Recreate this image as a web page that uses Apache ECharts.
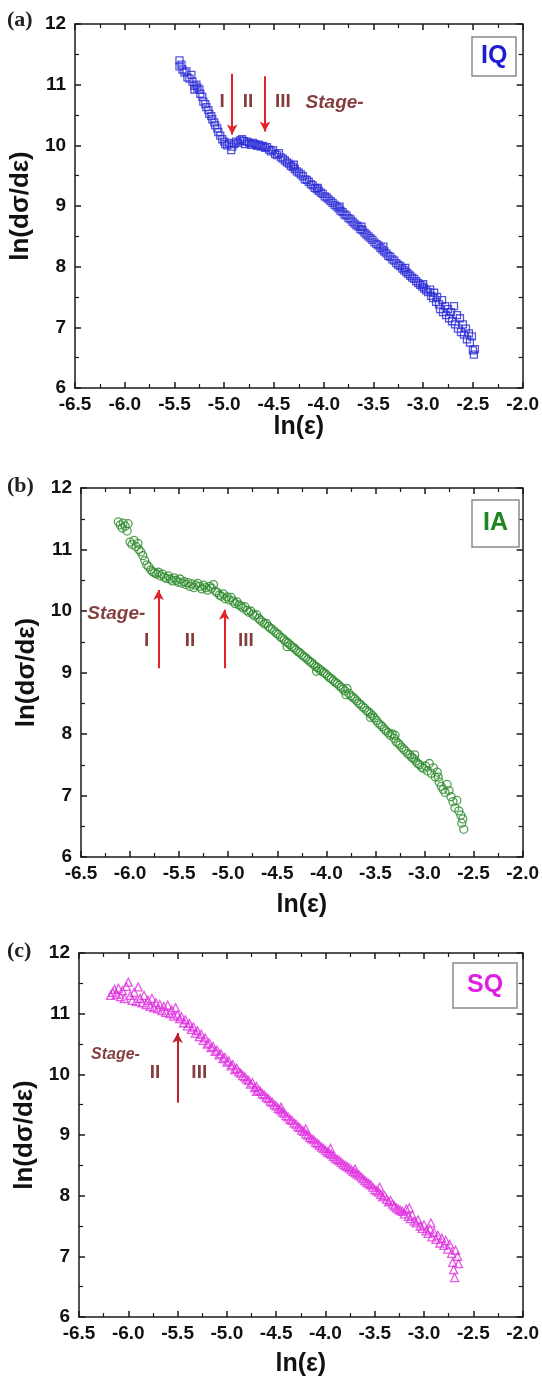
<!DOCTYPE html>
<html>
<head>
<meta charset="utf-8">
<script src="https://cdn.jsdelivr.net/npm/echarts@6/dist/echarts.min.js"></script>
<style>
html, body { margin: 0; padding: 0; background: #fff; }
#main { width: 542px; height: 1384px; }
</style>
</head>
<body>
<div id="main"></div>
<script>
// ---- data: [ln(strain), ln(dσ/dε)] ----
var iqPoints = [
  [-5.45,11.40],[-5.45,11.30],[-5.43,11.33],[-5.42,11.25],[-5.40,11.20],[-5.38,11.22],[-5.37,11.12],[-5.35,11.10],
  [-5.33,11.16],[-5.32,11.05],[-5.30,10.98],[-5.30,10.92],[-5.28,11.00],[-5.27,10.95],[-5.25,10.92],[-5.24,10.85],
  [-5.22,10.80],[-5.21,10.72],[-5.19,10.68],[-5.18,10.63],[-5.16,10.58],[-5.15,10.52],[-5.13,10.48],[-5.12,10.43],
  [-5.10,10.38],[-5.09,10.33],[-5.07,10.28],[-5.06,10.22],[-5.04,10.16],[-5.02,10.10],[-5.00,10.06],[-4.99,10.02],
  [-4.97,10.00],[-4.95,10.04],[-4.93,9.92],[-4.92,9.98],[-4.90,10.02],[-4.88,10.06],[-4.86,10.04],[-4.84,10.08],
  [-4.82,10.10],[-4.80,10.07],[-4.79,10.02],[-4.77,10.06],[-4.75,10.04],[-4.73,10.01],[-4.71,10.04],[-4.69,10.02],
  [-4.67,9.99],[-4.65,10.01],[-4.63,9.98],[-4.61,9.99],[-4.59,9.96],[-4.57,9.97],[-4.55,9.93],[-4.53,9.90],
  [-4.51,9.92],[-4.49,9.86],[-4.47,9.84],[-4.45,9.87],[-4.43,9.80],[-4.41,9.78],[-4.39,9.75],[-4.37,9.72],
  [-4.35,9.70],[-4.33,9.66],[-4.31,9.64],[-4.29,9.61],[-4.27,9.57],[-4.25,9.55],[-4.23,9.52],[-4.21,9.49],
  [-4.19,9.44],[-4.17,9.43],[-4.15,9.40],[-4.13,9.36],[-4.11,9.34],[-4.09,9.30],[-4.07,9.28],[-4.05,9.25],
  [-4.03,9.22],[-4.01,9.20],[-3.99,9.16],[-3.97,9.14],[-3.95,9.11],[-3.93,9.08],[-3.91,9.05],[-3.89,9.02],
  [-3.87,8.99],[-3.85,8.96],[-3.83,8.92],[-3.81,8.90],[-3.79,8.86],[-3.77,8.84],[-3.75,8.80],[-3.73,8.78],
  [-3.71,8.74],[-3.69,8.71],[-3.67,8.68],[-3.65,8.66],[-3.63,8.62],[-3.61,8.60],[-3.59,8.56],[-3.57,8.53],
  [-3.55,8.50],[-3.53,8.47],[-3.51,8.44],[-3.49,8.40],[-3.47,8.37],[-3.45,8.35],[-3.43,8.31],[-3.41,8.28],
  [-3.39,8.25],[-3.37,8.22],[-3.35,8.18],[-3.33,8.16],[-3.31,8.12],[-3.29,8.10],[-3.27,8.06],[-3.25,8.03],
  [-3.23,8.01],[-3.21,7.97],[-3.19,7.94],[-3.17,7.91],[-3.15,7.88],[-3.13,7.85],[-3.11,7.82],[-3.09,7.80],
  [-3.07,7.76],[-3.05,7.73],[-3.03,7.70],[-3.01,7.67],[-2.99,7.64],[-2.97,7.61],[-2.95,7.58],[-2.93,7.62],
  [-2.92,7.52],[-2.90,7.48],[-2.89,7.57],[-2.87,7.42],[-2.86,7.50],[-2.84,7.38],[-2.83,7.30],[-2.81,7.45],
  [-2.80,7.25],[-2.78,7.35],[-2.77,7.20],[-2.75,7.30],[-2.74,7.15],[-2.72,7.25],[-2.71,7.10],[-2.69,7.35],
  [-2.68,7.05],[-2.66,7.20],[-2.65,6.98],[-2.63,7.15],[-2.62,6.92],[-2.60,7.05],[-2.59,6.88],[-2.57,6.98],
  [-2.56,6.80],[-2.54,6.90],[-2.53,6.75],[-2.51,6.85],[-2.50,6.62],[-2.48,6.64],[-2.49,6.55],
  [-4.30,9.68],[-4.06,9.30],[-3.84,8.99],[-3.62,8.66],[-3.40,8.33],[-3.18,7.98],[-3.00,7.71]
];

var iaPoints = [
  [-6.12,11.45],[-6.10,11.40],[-6.08,11.35],[-6.07,11.43],[-6.05,11.38],[-6.03,11.30],[-6.02,11.42],
  [-6.00,11.12],[-5.98,11.08],[-5.96,11.15],[-5.94,11.05],[-5.92,11.10],[-5.91,11.00],[-5.89,10.96],
  [-5.87,10.90],[-5.85,10.82],[-5.83,10.75],[-5.81,10.72],[-5.79,10.67],[-5.77,10.64],[-5.75,10.62],[-5.73,10.60],
  [-5.71,10.63],[-5.69,10.57],[-5.67,10.60],[-5.65,10.55],[-5.63,10.53],[-5.61,10.57],[-5.59,10.52],[-5.57,10.49],
  [-5.55,10.54],[-5.53,10.50],[-5.51,10.47],[-5.49,10.52],[-5.47,10.45],[-5.45,10.48],[-5.43,10.43],[-5.41,10.46],
  [-5.39,10.40],[-5.37,10.44],[-5.35,10.38],[-5.33,10.42],[-5.31,10.45],[-5.29,10.40],[-5.27,10.36],[-5.25,10.42],
  [-5.23,10.38],[-5.21,10.34],[-5.19,10.40],[-5.17,10.37],[-5.15,10.43],[-5.13,10.32],[-5.11,10.30],[-5.09,10.26],
  [-5.07,10.24],[-5.05,10.28],[-5.03,10.20],[-5.01,10.23],[-4.99,10.18],[-4.97,10.22],[-4.95,10.16],[-4.93,10.12],
  [-4.91,10.15],[-4.89,10.10],[-4.87,10.08],[-4.85,10.05],[-4.83,10.07],[-4.81,10.01],[-4.79,9.98],[-4.77,10.00],
  [-4.75,9.95],[-4.73,9.92],[-4.71,9.94],[-4.69,9.88],[-4.67,9.85],[-4.65,9.82],[-4.63,9.79],[-4.61,9.80],
  [-4.59,9.75],[-4.57,9.72],[-4.55,9.70],[-4.53,9.67],[-4.51,9.64],[-4.49,9.62],[-4.47,9.58],[-4.45,9.56],
  [-4.43,9.53],[-4.41,9.50],[-4.39,9.48],[-4.37,9.45],[-4.35,9.42],[-4.33,9.40],[-4.31,9.37],[-4.29,9.34],
  [-4.27,9.32],[-4.25,9.29],[-4.23,9.26],[-4.21,9.24],[-4.19,9.21],[-4.17,9.18],[-4.15,9.16],[-4.13,9.13],
  [-4.11,9.10],[-4.09,9.08],[-4.07,9.05],[-4.05,9.03],[-4.03,9.00],[-4.01,8.98],[-3.99,8.95],[-3.97,8.92],
  [-3.95,8.90],[-3.93,8.87],[-3.91,8.84],[-3.89,8.82],[-3.87,8.79],[-3.85,8.76],[-3.83,8.73],[-3.81,8.70],
  [-3.79,8.74],[-3.77,8.66],[-3.75,8.62],[-3.73,8.60],[-3.71,8.57],[-3.69,8.54],[-3.67,8.50],[-3.65,8.48],
  [-3.63,8.44],[-3.61,8.42],[-3.59,8.38],[-3.57,8.36],[-3.55,8.33],[-3.53,8.30],[-3.51,8.26],[-3.49,8.22],
  [-3.47,8.18],[-3.45,8.15],[-3.43,8.12],[-3.41,8.08],[-3.39,8.05],[-3.37,8.02],[-3.35,7.98],[-3.33,8.00],
  [-3.31,7.93],[-3.29,7.88],[-3.27,7.85],[-3.25,7.82],[-3.23,7.78],[-3.21,7.75],[-3.19,7.72],[-3.17,7.68],
  [-3.15,7.66],[-3.13,7.62],[-3.11,7.60],[-3.09,7.56],[-3.07,7.52],[-3.05,7.50],[-3.03,7.46],[-3.01,7.44],
  [-2.99,7.48],[-2.97,7.40],[-2.95,7.52],[-2.93,7.36],[-2.91,7.45],[-2.89,7.30],[-2.87,7.38],[-2.85,7.22],
  [-2.83,7.15],[-2.81,7.10],[-2.79,7.05],[-2.77,7.18],[-2.75,7.08],[-2.73,6.98],[-2.71,6.90],[-2.69,6.80],
  [-2.67,6.92],[-2.65,6.75],[-2.63,6.68],[-2.62,6.55],[-2.61,6.62],[-2.60,6.45],
  [-4.40,9.42],[-4.10,9.02],[-3.80,8.64],[-3.55,8.27],[-3.30,7.98],[-3.10,7.66],[-2.86,7.30]
];

var sqPoints = [
  [-6.18,11.30],[-6.16,11.35],[-6.14,11.40],[-6.12,11.32],[-6.10,11.42],[-6.08,11.28],[-6.06,11.38],[-6.04,11.25],
  [-6.02,11.45],[-6.00,11.52],[-5.98,11.30],[-5.96,11.22],[-5.94,11.35],[-5.92,11.20],[-5.90,11.44],[-5.88,11.25],
  [-5.86,11.18],[-5.84,11.30],[-5.82,11.15],[-5.80,11.22],[-5.78,11.12],[-5.76,11.25],[-5.74,11.10],[-5.72,11.18],
  [-5.70,11.08],[-5.68,11.15],[-5.66,11.05],[-5.64,11.12],[-5.62,11.02],[-5.60,11.14],[-5.58,11.00],[-5.56,11.06],
  [-5.54,10.96],[-5.52,11.10],[-5.50,10.98],[-5.48,10.92],[-5.46,10.95],[-5.44,10.85],[-5.42,10.90],[-5.40,10.80],
  [-5.38,10.84],[-5.36,10.74],[-5.34,10.78],[-5.32,10.68],[-5.30,10.72],[-5.28,10.62],[-5.26,10.66],[-5.24,10.56],
  [-5.22,10.60],[-5.20,10.50],[-5.18,10.52],[-5.16,10.44],[-5.14,10.46],[-5.12,10.38],[-5.10,10.40],[-5.08,10.32],
  [-5.06,10.34],[-5.04,10.26],[-5.02,10.28],[-5.00,10.20],[-4.98,10.22],[-4.96,10.14],[-4.94,10.16],[-4.92,10.08],
  [-4.90,10.10],[-4.88,10.04],[-4.86,10.02],[-4.84,9.98],[-4.82,9.96],[-4.80,9.92],[-4.78,9.90],[-4.76,9.84],
  [-4.74,9.86],[-4.72,9.78],[-4.70,9.80],[-4.68,9.74],[-4.66,9.72],[-4.64,9.68],[-4.62,9.66],[-4.60,9.62],
  [-4.58,9.60],[-4.56,9.56],[-4.54,9.54],[-4.52,9.50],[-4.50,9.48],[-4.48,9.44],[-4.46,9.42],[-4.44,9.38],
  [-4.42,9.36],[-4.40,9.32],[-4.38,9.30],[-4.36,9.26],[-4.34,9.24],[-4.32,9.20],[-4.30,9.18],[-4.28,9.14],
  [-4.26,9.12],[-4.24,9.08],[-4.22,9.06],[-4.20,9.02],[-4.18,9.00],[-4.16,8.96],[-4.14,8.94],[-4.12,8.92],
  [-4.10,8.88],[-4.08,8.86],[-4.06,8.83],[-4.04,8.80],[-4.02,8.78],[-4.00,8.75],[-3.98,8.72],[-3.96,8.70],
  [-3.94,8.68],[-3.92,8.65],[-3.90,8.62],[-3.88,8.60],[-3.86,8.58],[-3.84,8.55],[-3.82,8.52],[-3.80,8.50],
  [-3.78,8.48],[-3.76,8.46],[-3.74,8.43],[-3.72,8.40],[-3.70,8.38],[-3.68,8.36],[-3.66,8.34],[-3.64,8.31],
  [-3.62,8.28],[-3.60,8.25],[-3.58,8.22],[-3.56,8.20],[-3.54,8.18],[-3.52,8.14],[-3.50,8.10],[-3.48,8.08],
  [-3.46,8.06],[-3.44,8.02],[-3.42,7.98],[-3.40,8.00],[-3.38,7.94],[-3.36,7.90],[-3.34,7.92],[-3.32,7.86],
  [-3.30,7.83],[-3.28,7.80],[-3.26,7.78],[-3.24,7.76],[-3.22,7.74],[-3.20,7.70],[-3.18,7.78],[-3.16,7.66],
  [-3.14,7.62],[-3.12,7.68],[-3.10,7.58],[-3.08,7.55],[-3.06,7.60],[-3.04,7.50],[-3.02,7.46],[-3.00,7.52],
  [-2.98,7.42],[-2.96,7.38],[-2.94,7.45],[-2.92,7.32],[-2.90,7.40],[-2.88,7.28],[-2.86,7.35],[-2.84,7.22],
  [-2.82,7.30],[-2.80,7.18],[-2.78,7.26],[-2.76,7.12],[-2.74,7.20],[-2.72,7.05],[-2.71,6.90],[-2.70,6.78],
  [-2.69,6.65],[-2.68,7.10],[-2.66,7.00],[-2.65,6.88],
  [-4.70,9.72],[-4.45,9.46],[-4.20,9.10],[-3.95,8.78],[-3.70,8.44],[-3.45,8.14],[-3.15,7.80],[-2.93,7.55]
];

// stage arrows: [x, yFrom, yTo] (arrow head at yTo)
var arrowsA = [[-4.92, 11.18, 10.18], [-4.59, 11.14, 10.23]];
var arrowsB = [[-5.71, 9.07, 10.34], [-5.04, 9.07, 10.02]];
var arrowsC = [[-5.50, 9.53, 10.68]];

// stage labels: [text, x, y]
var stageA = [['I', -5.02, 10.72], ['II', -4.76, 10.72], ['III', -4.41, 10.72], ['Stage-', -3.89, 10.70]];
var stageB = [['Stage-', -6.14, 9.95], ['I', -5.83, 9.52], ['II', -5.39, 9.52], ['III', -4.82, 9.52]];
var stageC = [['Stage-', -6.13, 10.32], ['II', -5.73, 10.03], ['III', -5.28, 10.03]];

var xTicksMin = -6.5, xTicksMax = -2.0, xStep = 0.5;
var yTicksMin = 6, yTicksMax = 12, yStep = 1;

var FONT = '"Liberation Sans", Arial, sans-serif';
var SERIF = '"Liberation Serif", "DejaVu Serif", serif';
var AX = '#1a1a1a';

var myChart = echarts.init(document.getElementById('main'));

function xAxisPair(g, nameGap) {
  var common = {
    type: 'value', gridIndex: g, min: xTicksMin, max: xTicksMax, interval: xStep,
    axisLine: { onZero: false, lineStyle: { color: AX, width: 1.5 } },
    axisTick: { inside: true, length: 6, lineStyle: { color: AX, width: 1.5 } },
    minorTick: { show: true, splitNumber: 2, length: 4, lineStyle: { color: AX, width: 1.2 } },
    splitLine: { show: false }
  };
  var bottom = Object.assign({}, common, {
    position: 'bottom',
    name: 'ln(ε)', nameLocation: 'middle', nameGap: nameGap,
    nameTextStyle: { fontFamily: FONT, fontWeight: 'bold', fontSize: 25, color: '#111' },
    axisLabel: { margin: 7, fontFamily: FONT, fontWeight: 'bold', fontSize: 19, color: '#111',
      formatter: function (v) { return v.toFixed(1); } }
  });
  var top = Object.assign({}, common, { position: 'top', axisLabel: { show: false } });
  return [bottom, top];
}

function yAxisPair(g, nameGap) {
  var common = {
    type: 'value', gridIndex: g, min: yTicksMin, max: yTicksMax, interval: yStep,
    axisLine: { onZero: false, lineStyle: { color: AX, width: 1.5 } },
    axisTick: { inside: true, length: 6, lineStyle: { color: AX, width: 1.5 } },
    minorTick: { show: true, splitNumber: 2, length: 4, lineStyle: { color: AX, width: 1.2 } },
    splitLine: { show: false }
  };
  var left = Object.assign({}, common, {
    position: 'left',
    name: 'ln(dσ/dε)', nameLocation: 'middle', nameGap: nameGap,
    nameTextStyle: { fontFamily: FONT, fontWeight: 'bold', fontSize: 26, color: '#111' },
    axisLabel: { margin: 9, fontFamily: FONT, fontWeight: 'bold', fontSize: 19, color: '#111' }
  });
  var right = Object.assign({}, common, { position: 'right', axisLabel: { show: false } });
  return [left, right];
}

function scatter(g, pts, symbol, color, size) {
  return {
    type: 'scatter', xAxisIndex: g * 2, yAxisIndex: g * 2, data: pts,
    symbol: symbol, symbolSize: size,
    itemStyle: { color: 'rgba(255,255,255,0)', borderColor: color, borderWidth: 1.3 },
    silent: true, z: 2
  };
}

function annotations(g, arrows, labels, arrowColor, fontSize, stageSize) {
  return {
    type: 'scatter', xAxisIndex: g * 2, yAxisIndex: g * 2, symbolSize: 0, silent: true, z: 5,
    data: labels.map(function (l) {
      var isStage = l[0] === 'Stage-';
      return {
        name: l[0], value: [l[1], l[2]],
        label: { fontStyle: isStage ? 'italic' : 'normal', fontSize: isStage ? stageSize : fontSize }
      };
    }),
    label: { show: true, position: 'inside', formatter: '{b}', fontFamily: FONT, fontWeight: 'bold',
      color: '#650c0c' },
    markLine: {
      silent: true, animation: false, symbol: ['none', 'arrow'], symbolSize: [8, 10],
      label: { show: false },
      lineStyle: { color: arrowColor, width: 2, type: 'solid' },
      data: arrows.map(function (a) { return [{ coord: [a[0], a[1]] }, { coord: [a[0], a[2]] }]; })
    }
  };
}

function boxTitle(text, left, top, color, padH, padV) {
  return {
    text: text, left: left, top: top, padding: [padV, padH, padV, padH],
    borderColor: '#8a8a8a', borderWidth: 1.5,
    textStyle: { fontFamily: FONT, fontWeight: 'bold', fontSize: 25, color: color, lineHeight: 25 }
  };
}

function panelTitle(text, top) {
  return {
    text: text, left: 7, top: top, padding: 0,
    textStyle: { fontFamily: SERIF, fontWeight: 'bold', fontSize: 22, color: '#222' }
  };
}

var xa = xAxisPair(0, 19), xb = xAxisPair(1, 36), xc = xAxisPair(2, 35);
var ya = yAxisPair(0, 35), yb = yAxisPair(1, 40), yc = yAxisPair(2, 38);

var option = {
  animation: false,
  backgroundColor: '#fff',
  title: [
    panelTitle('(a)', 9), panelTitle('(b)', 475), panelTitle('(c)', 940),
    boxTitle('IQ', 472, 37, '#1c1cd0', 9, 7),
    boxTitle('IA', 472, 500, '#1f861f', 11, 11),
    boxTitle('SQ', 453, 963, '#e020e0', 14, 10)
  ],
  grid: [
    { left: 74, top: 24, width: 450, height: 364 },
    { left: 81, top: 488, width: 445, height: 369 },
    { left: 79, top: 953, width: 445, height: 364 }
  ],
  xAxis: [xa[0], xa[1], xb[0], xb[1], xc[0], xc[1]],
  yAxis: [ya[0], ya[1], yb[0], yb[1], yc[0], yc[1]],
  series: [
    scatter(0, iqPoints, 'rect', '#2a2ad6', 7),
    scatter(1, iaPoints, 'circle', '#2a8a2a', 8),
    scatter(2, sqPoints, 'triangle', '#e030e0', 8),
    annotations(0, arrowsA, stageA, '#e3222a', 19, 19),
    annotations(1, arrowsB, stageB, '#e3222a', 19, 19),
    annotations(2, arrowsC, stageC, '#c0202a', 19, 16)
  ]
};

myChart.setOption(option);
</script>
</body>
</html>
